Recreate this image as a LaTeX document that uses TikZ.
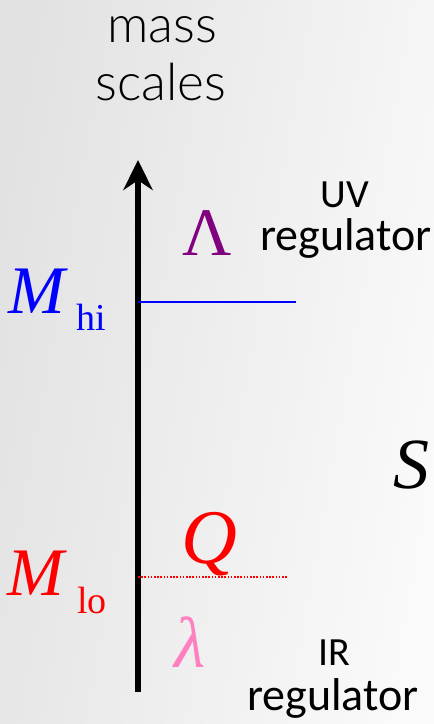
\documentclass[tikz,border=0pt]{standalone}
\usepackage{fontspec}
\setmainfont{Liberation Serif}
\newfontfamily\headfont{Lato Light}
\newfontfamily\labfont{Carlito}
\usetikzlibrary{arrows.meta}
\definecolor{bgl}{RGB}{226,226,226}
\definecolor{bgr}{RGB}{250,250,250}
\definecolor{lampurple}{RGB}{128,0,128}
\definecolor{lampink}{RGB}{255,128,192}
\tikzset{
  px/.style={x=0.75pt,y=-0.75pt},
  sym/.style={inner sep=0pt,anchor=base west},
  lab/.style={inner sep=0pt,anchor=base,font=\labfont\fontsize{34.5}{40}\selectfont},
  labs/.style={inner sep=0pt,anchor=base,font=\labfont\fontsize{30}{36}\selectfont},
  head/.style={inner sep=0pt,anchor=base,font=\headfont\fontsize{38.5}{44}\selectfont},
  axis/.style={line width=4.5pt,-{Stealth[length=22.5pt,width=22pt]}},
  hiline/.style={blue,line width=1.1pt},
  loline/.style={red,line width=1.1pt,dash pattern=on 1.2pt off 1.2pt}
}
\begin{document}
\begin{tikzpicture}[px]
\useasboundingbox (0,0) rectangle (434,724);
\shade[left color=bgl,right color=bgr,shading angle=80] (0,0) rectangle (434,724);
\begin{scope}
\clip (0,0) rectangle (434,724);
% headings
\node[head] (mass) at (162,43) {mass};
\node[head] (scales) at (161,100) {scales};
% axis
\coordinate (abot) at (138,692);
\coordinate (atop) at (138,160);
\draw[axis] (abot) -- (atop);
% scale lines
\coordinate (hiL) at (138,302);
\coordinate (hiR) at (296,302);
\coordinate (loL) at (138,577);
\coordinate (loR) at (288,577);
\draw[hiline] (hiL) -- (hiR);
\draw[loline] (loL) -- (loR);
% M labels
\node[sym,blue,font=\itshape\fontsize{51}{60}\selectfont] (Mhi) at (8,313) {M};
\node[sym,blue,font=\fontsize{28.5}{34}\selectfont] (hi) at (76,330) {hi};
\node[sym,red,font=\itshape\fontsize{51}{60}\selectfont] (Mlo) at (7,595) {M};
\node[sym,red,font=\fontsize{28.5}{34}\selectfont] (lo) at (77,613) {lo};
% Greek / Q
\node[sym,lampurple,font=\fontsize{51}{60}\selectfont] (Lam) at (182,255) {Λ};
\node[sym,red,font=\itshape\fontsize{58}{68}\selectfont] (Q) at (181,563) {Q};
\node[sym,lampink,font=\itshape\fontsize{54}{64}\selectfont] (lam) at (174,667) {λ};
\node[sym,font=\itshape\fontsize{54}{64}\selectfont] (S) at (393,488) {S};
% regulators
\node[labs] (uv) at (345,207) {UV};
\node[lab] (uvr) at (346,250) {regulator};
\node[labs] (ir) at (334,665) {IR};
\node[lab] (irr) at (333,710) {regulator};
\end{scope}
\end{tikzpicture}
\end{document}
